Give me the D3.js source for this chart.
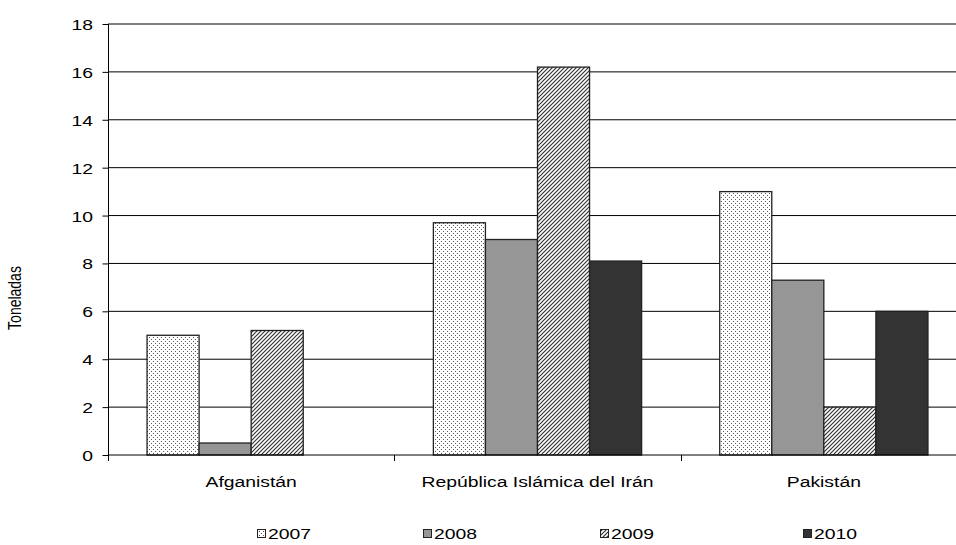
<!DOCTYPE html>
<html><head><meta charset="utf-8">
<script src="https://cdn.jsdelivr.net/npm/d3@7"></script>
<style>body{margin:0;background:#fff}svg{display:block}text{font-family:"Liberation Sans",Arial,sans-serif}</style>
</head><body><svg id="c" width="956" height="545"></svg>
<script>
const categories = ["Afganistán", "República Islámica del Irán", "Pakistán"];
const years = ["2007", "2008", "2009", "2010"];
const v2007 = [5.0, 9.7, 11.0];
const v2008 = [0.5, 9.0, 7.3];
const v2009 = [5.2, 16.2, 2.0];
const v2010 = [0, 8.1, 6.0];
const yTicks = [0, 2, 4, 6, 8, 10, 12, 14, 16, 18];
const yLabel = "Toneladas";
const seriesValues = [v2007, v2008, v2009, v2010];

(function(){
const SX = 1.29; // horizontal stretch of the original text
const svg = d3.select("#c");
const defs = svg.append("defs");
const dots = defs.append("pattern").attr("id","dots").attr("patternUnits","userSpaceOnUse").attr("width",4).attr("height",4);
dots.append("rect").attr("width",4).attr("height",4).attr("fill","#fff");
dots.append("rect").attr("x",1).attr("y",1).attr("width",1).attr("height",1).attr("fill","#555");
dots.append("rect").attr("x",3).attr("y",3).attr("width",1).attr("height",1).attr("fill","#555");
const diag = defs.append("pattern").attr("id","diag").attr("patternUnits","userSpaceOnUse").attr("width",4).attr("height",4);
diag.append("rect").attr("width",4).attr("height",4).attr("fill","#fff");
diag.append("path").attr("d","M-1,1 l2,-2 M0,4 l4,-4 M3,5 l2,-2").attr("stroke","#333").attr("stroke-width",1.2);

const fills = ["url(#dots)", "#969696", "url(#diag)", "#333333"];

const pl = 108, pr = 967, pt = 24, pb = 455;
const x0 = d3.scaleBand().domain(categories).range([pl, pr]).paddingInner(0).paddingOuter(0);
const x1 = d3.scaleBand().domain(years).range([0, x0.bandwidth()]).paddingInner(0).paddingOuter(0.75);
const y = d3.scaleLinear().domain([0, 18]).range([pb, pt]);

// gridlines
svg.append("g").selectAll("line").data(yTicks.filter(d=>d>0)).join("line")
  .attr("x1", pl).attr("x2", pr)
  .attr("y1", d=>y(d)).attr("y2", d=>y(d))
  .attr("stroke","#000").attr("stroke-width",1);

// bars
const g = svg.append("g");
years.forEach((yr, si) => {
  g.selectAll(null).data(categories.map((c,i)=>({c, v: seriesValues[si][i]})).filter(d=>d.v>0)).join("rect")
    .attr("x", d => x0(d.c) + x1(yr))
    .attr("y", d => y(d.v))
    .attr("width", x1.bandwidth())
    .attr("height", d => y(0) - y(d.v))
    .attr("fill", fills[si])
    .attr("stroke", "#222").attr("stroke-width", 1.3);
});

// y axis
const ya = svg.append("g").attr("transform", `translate(${pl+0.5},0)`)
  .call(d3.axisLeft(y).tickValues(yTicks).tickSize(6).tickFormat(d3.format("d")));
ya.select(".domain").attr("d", `M0,${pt}V${pb+6}`).attr("stroke","#000");
ya.selectAll(".tick line").attr("stroke","#000");
ya.selectAll(".tick text")
  .attr("x", null).attr("dy", null)
  .attr("transform", `translate(-15.5,5.5) scale(${SX},1)`)
  .attr("font-size",15).attr("fill","#000").attr("text-anchor","end")
  .attr("font-family","Liberation Sans, Arial, sans-serif");

// x axis
const xa = svg.append("g").attr("transform", `translate(0,${pb})`);
xa.append("line").attr("x1", pl).attr("x2", pr).attr("stroke","#000");
xa.selectAll("line.t").data(categories.slice(1)).join("line").attr("class","t")
  .attr("x1", d=>Math.round(x0(d))+0.5).attr("x2", d=>Math.round(x0(d))+0.5).attr("y1",0).attr("y2",6).attr("stroke","#000");
xa.selectAll("text").data(categories).join("text")
  .attr("transform", d => `translate(${x0(d) + x0.bandwidth()/2},32) scale(${SX},1)`)
  .attr("text-anchor","middle").attr("font-size",15).attr("fill","#000").text(d=>d);

// y label
svg.append("text").attr("transform",`translate(21,298) scale(${SX},1) rotate(-90)`).attr("text-anchor","middle")
  .attr("font-size",14).attr("fill","#000").text(yLabel);

// legend
const legX = [257, 423, 600, 803];
const leg = svg.append("g");
years.forEach((yr, i) => {
  leg.append("rect").attr("x", legX[i]+0.5).attr("y", 529.5).attr("width", 8).attr("height", 8)
    .attr("fill", fills[i]).attr("stroke","#222").attr("stroke-width",1);
  leg.append("text").attr("transform", `translate(${legX[i]+11},539) scale(${SX},1)`)
    .attr("font-size",15).attr("fill","#000").text(yr);
});
})();
</script></body></html>
